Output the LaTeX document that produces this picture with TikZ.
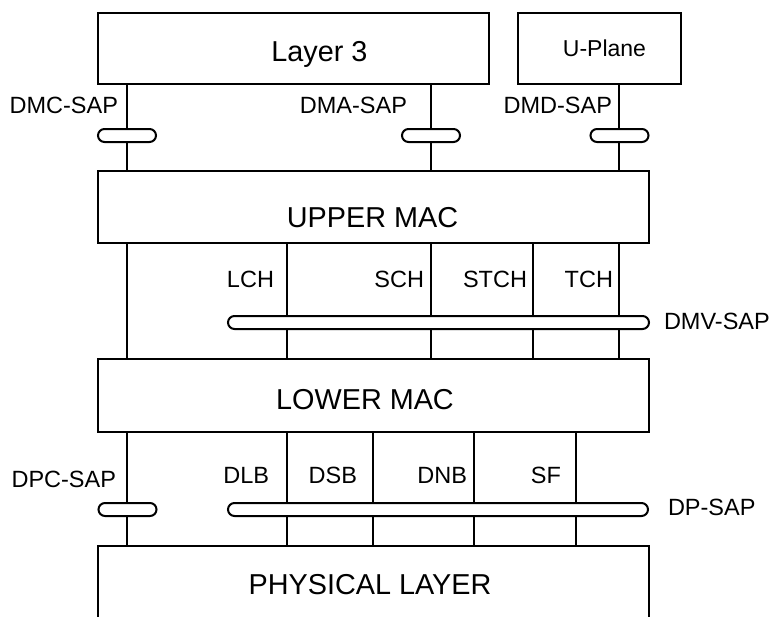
\documentclass[tikz,border=0pt]{standalone}
\usepackage{fontspec}
\setmainfont{Liberation Sans}
\begin{document}
\begin{tikzpicture}[x=1pt,y=-1pt,line width=2pt,
  box/.style={draw,inner sep=0,minimum width=#1},
  sap/.style={draw,fill=white,rounded corners=6.5pt,inner sep=0,minimum height=13pt,minimum width=#1},
  lbl/.style={inner sep=0,font=\fontsize{23.5}{27}\selectfont},
  big/.style={inner sep=0,font=\fontsize{28.8}{33}\selectfont}]
  \clip (0,0) rectangle (771,616);

  \node[box=391.5pt,minimum height=70.7pt] (lay3) at (293.25,48.65) {};
  \node[box=163pt,minimum height=70.7pt] (uplane) at (599.5,48.65) {};
  \node[box=551pt,minimum height=72pt] (umac) at (373,207) {};
  \node[box=551pt,minimum height=73.5pt] (lmac) at (373,395.25) {};
  \node[box=551pt,minimum height=114.5pt] (phy) at (373,602.75) {};

  \node[big,anchor=base] (t-lay3) at (319.5,61) {Layer 3};
  \node[inner sep=0,font=\fontsize{23}{27}\selectfont,anchor=base] (t-uplane) at (604.5,56) {U-Plane};
  \node[big,anchor=base] (t-umac) at (372.5,227) {UPPER MAC};
  \node[big,anchor=base] (t-lmac) at (365,409) {LOWER MAC};
  \node[big,anchor=base] (t-phy) at (370,594) {PHYSICAL LAYER};

  \foreach \x in {127,431} \draw (\x,0 |- lay3.south) -- (\x,0 |- umac.north);
  \draw (619,0 |- uplane.south) -- (619,0 |- umac.north);
  \foreach \x in {127,287,431,533,619} \draw (\x,0 |- umac.south) -- (\x,0 |- lmac.north);
  \foreach \x in {127,287,373,474,576} \draw (\x,0 |- lmac.south) -- (\x,0 |- phy.north);

  \node[sap=58pt] (dmc) at (127,135.5) {};
  \node[sap=58pt] (dma) at (431,135.5) {};
  \node[sap=58pt] (dmd) at (619.5,135.5) {};
  \node[sap=421pt] (dmv) at (438.5,322.5) {};
  \node[sap=58pt] (dpc) at (127.5,509.5) {};
  \node[sap=420pt] (dp) at (438,509.5) {};

  \node[lbl,anchor=base east] (l-dmc) at (119,113) {DMC-SAP};
  \node[lbl,anchor=base east] (l-dma) at (408,113) {DMA-SAP};
  \node[lbl,anchor=base east] (l-dmd) at (613,113) {DMD-SAP};
  \node[lbl,anchor=base east] (l-lch) at (275,287) {LCH};
  \node[lbl,anchor=base east] (l-sch) at (425,287) {SCH};
  \node[lbl,anchor=base east] (l-stch) at (528,287) {STCH};
  \node[lbl,anchor=base east] (l-tch) at (614,287) {TCH};
  \node[lbl,anchor=base west] (l-dmv) at (663,329) {DMV-SAP};
  \node[lbl,anchor=base east] (l-dlb) at (270,483) {DLB};
  \node[lbl,anchor=base east] (l-dsb) at (358,483) {DSB};
  \node[lbl,anchor=base east] (l-dnb) at (468,483) {DNB};
  \node[lbl,anchor=base east] (l-sf) at (562,483) {SF};
  \node[lbl,anchor=base east] (l-dpc) at (117,487) {DPC-SAP};
  \node[lbl,anchor=base west] (l-dp) at (667,515) {DP-SAP};
\end{tikzpicture}
\end{document}
